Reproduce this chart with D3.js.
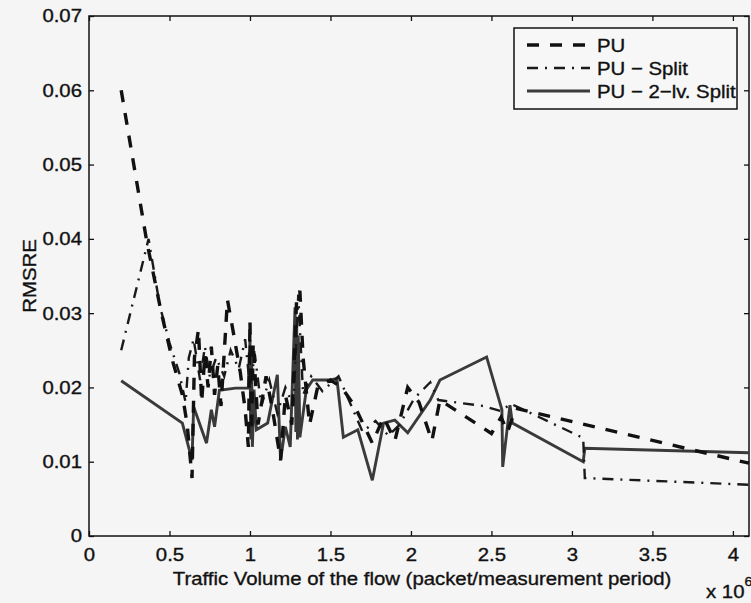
<!DOCTYPE html>
<html>
<head>
<meta charset="utf-8">
<script src="https://cdn.jsdelivr.net/npm/d3@7"></script>
<style>
  html, body { margin: 0; padding: 0; background: #f5f5f5; }
  svg { display: block; }
  text { font-family: "Liberation Sans", Arial, Helvetica, sans-serif; fill: #111; }
</style>
</head>
<body>
<svg id="chart" width="751" height="603"></svg>
<script>
// Traffic volume (x 10^6 packets per measurement period) and RMSRE per method
const puVolume = [0.20, 0.36, 0.45, 0.52, 0.58, 0.61, 0.64, 0.655, 0.68, 0.70, 0.72, 0.74, 0.76, 0.78, 0.80, 0.82, 0.86, 0.90, 0.94, 0.97, 0.99, 1.00, 1.01, 1.02, 1.05, 1.10, 1.14, 1.19, 1.22, 1.26, 1.29, 1.31, 1.33, 1.37, 1.42, 1.50, 1.57, 1.65, 1.76, 1.83, 1.90, 1.98, 2.05, 2.13, 2.18, 2.50, 2.56, 2.60, 2.65, 4.10];
const puRmsre  = [0.0600, 0.0395, 0.0300, 0.0235, 0.0190, 0.0150, 0.0078, 0.0240, 0.0278, 0.0180, 0.0245, 0.0200, 0.0255, 0.0190, 0.0230, 0.0175, 0.0318, 0.0270, 0.0220, 0.0170, 0.0120, 0.0290, 0.0140, 0.0260, 0.0150, 0.0215, 0.0170, 0.0102, 0.0190, 0.0150, 0.0320, 0.0330, 0.0240, 0.0150, 0.0200, 0.0210, 0.0200, 0.0175, 0.0125, 0.0160, 0.0128, 0.0200, 0.0180, 0.0128, 0.0183, 0.0138, 0.0160, 0.0140, 0.0172, 0.0098];

const splitVolume = [0.20, 0.37, 0.44, 0.50, 0.56, 0.60, 0.62, 0.65, 0.69, 0.72, 0.75, 0.79, 0.84, 0.88, 0.93, 0.97, 1.00, 1.03, 1.07, 1.12, 1.17, 1.22, 1.27, 1.30, 1.33, 1.38, 1.45, 1.55, 1.62, 1.70, 1.78, 1.86, 1.93, 2.02, 2.12, 2.17, 2.45, 2.56, 2.62, 3.07, 3.08, 4.10];
const splitRmsre  = [0.0250, 0.0400, 0.0310, 0.0260, 0.0220, 0.0180, 0.0240, 0.0265, 0.0210, 0.0255, 0.0215, 0.0240, 0.0215, 0.0250, 0.0225, 0.0265, 0.0200, 0.0245, 0.0175, 0.0210, 0.0165, 0.0200, 0.0175, 0.0325, 0.0190, 0.0215, 0.0195, 0.0215, 0.0180, 0.0140, 0.0155, 0.0135, 0.0150, 0.0185, 0.0207, 0.0183, 0.0175, 0.0168, 0.0178, 0.0132, 0.0078, 0.0069];

const split2Volume = [0.20, 0.58, 0.64, 0.65, 0.73, 0.76, 0.78, 0.81, 0.91, 0.99, 1.000, 1.005, 1.010, 1.015, 1.025, 1.04, 1.11, 1.17, 1.19, 1.22, 1.25, 1.280, 1.285, 1.290, 1.295, 1.300, 1.31, 1.35, 1.39, 1.50, 1.54, 1.58, 1.67, 1.76, 1.83, 1.90, 1.98, 2.12, 2.18, 2.47, 2.565, 2.57, 2.615, 2.63, 3.07, 3.08, 4.10];
const split2Rmsre  = [0.0209, 0.0152, 0.0102, 0.0174, 0.0125, 0.0170, 0.0147, 0.0196, 0.0199, 0.0199, 0.0264, 0.0130, 0.0240, 0.0120, 0.0197, 0.0143, 0.0152, 0.0217, 0.0102, 0.0147, 0.0120, 0.0308, 0.0140, 0.0290, 0.0130, 0.0270, 0.0133, 0.0197, 0.0210, 0.0210, 0.0212, 0.0133, 0.0143, 0.0075, 0.0152, 0.0156, 0.0139, 0.0183, 0.0210, 0.0241, 0.0170, 0.0093, 0.0176, 0.0152, 0.0100, 0.0118, 0.0112];

const seriesNames = ["PU", "PU \u2212 Split", "PU \u2212 2\u2212lv. Split"];

const xTickValues = [0, 0.5, 1, 1.5, 2, 2.5, 3, 3.5, 4];
const xTickLabels = ["0", "0.5", "1", "1.5", "2", "2.5", "3", "3.5", "4"];
const yTickValues = [0, 0.01, 0.02, 0.03, 0.04, 0.05, 0.06, 0.07];
const yTickLabels = ["0", "0.01", "0.02", "0.03", "0.04", "0.05", "0.06", "0.07"];

// ---- layout ----
const plot = { left: 89, right: 749, top: 16, bottom: 536 };
const fontSize = 18.5;
const stretch = 1.1;   // the lettering is set slightly wide

const svg = d3.select("#chart");

const x = d3.scaleLinear().domain([0, 4.1]).range([plot.left, plot.right]);
const y = d3.scaleLinear().domain([0, 0.07]).range([plot.bottom, plot.top]);

function widen(sel) {
  sel.each(function () {
    const t = d3.select(this);
    const tx = +(t.attr("x") || 0);
    t.attr("x", tx / stretch).attr("transform", `scale(${stretch},1)`);
  });
}

function ink(sel) {
  sel.attr("fill", "#111").attr("stroke", "#111").attr("stroke-width", 0.35);
}

// ---- axes (ticks drawn inward, box closed on all sides) ----
const gx = svg.append("g")
  .attr("transform", `translate(0,${plot.bottom})`)
  .call(d3.axisBottom(x).tickValues(xTickValues)
    .tickFormat((d, i) => xTickLabels[i])
    .tickSizeInner(-5).tickSizeOuter(0).tickPadding(12));
const gy = svg.append("g")
  .attr("transform", `translate(${plot.left},0)`)
  .call(d3.axisLeft(y).tickValues(yTickValues)
    .tickFormat((d, i) => yTickLabels[i])
    .tickSizeInner(-5).tickSizeOuter(0).tickPadding(7));
const gt = svg.append("g")
  .attr("transform", `translate(0,${plot.top})`)
  .call(d3.axisTop(x).tickValues(xTickValues).tickFormat("")
    .tickSizeInner(-5).tickSizeOuter(0));
const gr = svg.append("g")
  .attr("transform", `translate(${plot.right},0)`)
  .call(d3.axisRight(y).tickValues(yTickValues).tickFormat("")
    .tickSizeInner(-5).tickSizeOuter(0));

[gx, gy, gt, gr].forEach(g => {
  g.select(".domain").remove();
  g.selectAll(".tick line").attr("stroke", "#111").attr("stroke-width", 1.3);
  g.selectAll("text").attr("font-size", fontSize)
    .attr("font-family", "Liberation Sans, Arial, sans-serif").call(ink);
});
gx.selectAll("text").call(widen);
gy.selectAll("text").call(widen);

svg.append("rect")
  .attr("x", plot.left).attr("y", plot.top)
  .attr("width", plot.right - plot.left).attr("height", plot.bottom - plot.top)
  .attr("fill", "none").attr("stroke", "#111").attr("stroke-width", 1.5);

// ---- series ----
const line = d3.line().x(d => x(d[0])).y(d => y(d[1]));
const zip = (a, b) => a.map((v, i) => [v, b[i]]);

const styles = [
  { data: zip(puVolume, puRmsre), color: "#111", width: 3.4, dash: "12,11" },
  { data: zip(splitVolume, splitRmsre), color: "#1a1a1a", width: 2.4, dash: "11,7,2,7" },
  { data: zip(split2Volume, split2Rmsre), color: "#3a3a3a", width: 2.9, dash: null }
];

const lines = svg.append("g");
styles.slice().reverse().forEach(s => {
  lines.append("path")
    .datum(s.data)
    .attr("d", line)
    .attr("fill", "none")
    .attr("stroke", s.color)
    .attr("stroke-width", s.width)
    .attr("stroke-linejoin", "miter")
    .attr("stroke-dasharray", s.dash);
});

// ---- axis titles ----
const xt = svg.append("g").attr("transform", `translate(${(plot.left + plot.right) / 2 + 3},585)`);
xt.append("text").attr("text-anchor", "middle").attr("font-size", fontSize)
  .attr("transform", `scale(${stretch},1)`).call(ink)
  .text("Traffic Volume of the flow (packet/measurement period)");

const yt = svg.append("g").attr("transform", `translate(36,${(plot.top + plot.bottom) / 2}) rotate(-90)`);
yt.append("text").attr("text-anchor", "middle").attr("font-size", fontSize)
  .attr("transform", `scale(${stretch},1)`).call(ink)
  .text("RMSRE");

const mult = svg.append("g").attr("transform", "translate(706,598)");
const mt = mult.append("text").attr("font-size", fontSize).attr("transform", `scale(${stretch},1)`).call(ink);
mt.append("tspan").text("x 10");
mt.append("tspan").attr("font-size", 13).attr("dy", -12).text("6");

// ---- legend ----
const lg = svg.append("g");
lg.append("rect")
  .attr("x", 514).attr("y", 28).attr("width", 223).attr("height", 81)
  .attr("fill", "#f7f7f7").attr("stroke", "#111").attr("stroke-width", 1.5);
const rowY = [45, 68, 91];
styles.forEach((s, i) => {
  lg.append("line")
    .attr("x1", 527).attr("x2", 590).attr("y1", rowY[i]).attr("y2", rowY[i])
    .attr("stroke", s.color).attr("stroke-width", s.width)
    .attr("stroke-dasharray", s.dash);
  const g = lg.append("g").attr("transform", `translate(597,${rowY[i]})`);
  g.append("text").attr("font-size", fontSize).attr("dy", "0.36em")
    .attr("transform", `scale(${stretch},1)`).call(ink)
    .text(seriesNames[i]);
});
</script>
</body>
</html>
